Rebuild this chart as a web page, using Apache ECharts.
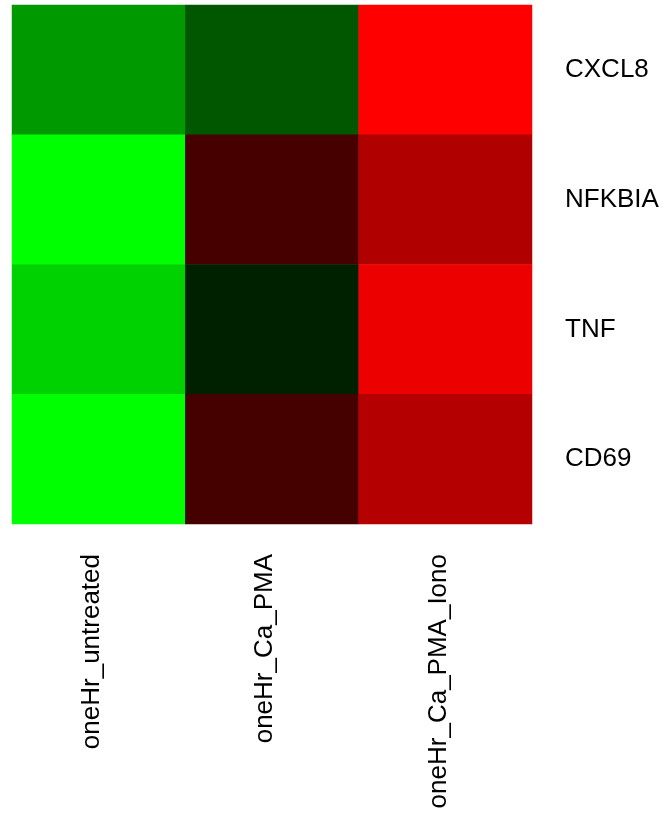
<!DOCTYPE html>
<html>
<head>
<meta charset="utf-8">
<script src="https://cdn.jsdelivr.net/npm/echarts@6/dist/echarts.min.js"></script>
<style>html,body{margin:0;padding:0;background:#fff;}#c{width:664px;height:818px;}</style>
</head>
<body>
<div id="c"></div>
<script>
var samples = ['oneHr_untreated', 'oneHr_Ca_PMA', 'oneHr_Ca_PMA_Iono'];
var genes = ['CXCL8', 'NFKBIA', 'TNF', 'CD69'];
var CXCL8 = [-0.6, -0.34, 1.0];
var NFKBIA = [-1.0, 0.28, 0.69];
var TNF = [-0.82, -0.13, 0.93];
var CD69 = [-1.0, 0.27, 0.71];
var rows = [CXCL8, NFKBIA, TNF, CD69];
var data = [];
rows.forEach(function (r, gi) {
  r.forEach(function (v, si) { data.push([si, gi, v]); });
});
var chart = echarts.init(document.getElementById('c'));
chart.setOption({
  animation: false,
  backgroundColor: '#ffffff',
  grid: { left: 12, top: 5, width: 520, height: 519 },
  xAxis: {
    type: 'category', data: samples, position: 'bottom',
    axisLine: { show: false }, axisTick: { show: false }, splitLine: { show: false },
    axisLabel: {
      rotate: 90, margin: 30, interval: 0,
      formatter: function (v) { return '{a|' + v + '}'; },
      rich: { a: { fontSize: 26, color: '#000', fontFamily: 'Liberation Sans, Arial, sans-serif', padding: [0, 0, 14, 0] } }
    }
  },
  yAxis: {
    type: 'category', data: genes, inverse: true, position: 'right',
    axisLine: { show: false }, axisTick: { show: false }, splitLine: { show: false },
    axisLabel: { margin: 33, fontSize: 26, color: '#000', fontFamily: 'Liberation Sans, Arial, sans-serif' }
  },
  visualMap: {
    show: false, min: -1, max: 1, dimension: 2,
    inRange: { color: ['#00ff00', '#000000', '#ff0000'] }
  },
  series: [{
    type: 'heatmap', data: data,
    itemStyle: { borderWidth: 0 },
    emphasis: { disabled: true }
  }]
});
</script>
</body>
</html>
